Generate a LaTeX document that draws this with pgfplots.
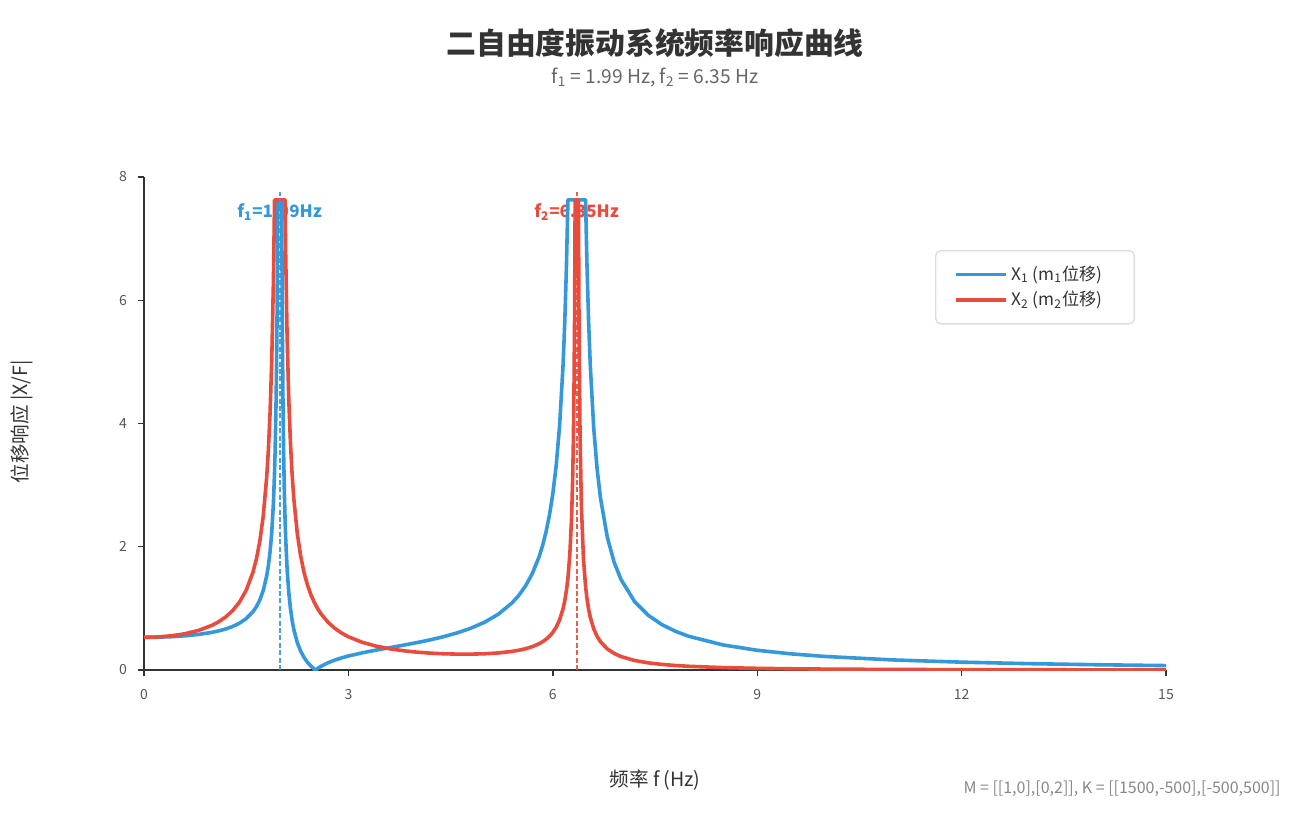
\documentclass[border=0pt]{standalone}
\usepackage{fontspec}
\setmainfont{Noto Sans CJK SC}
\usepackage{pgfplots}
\pgfplotsset{compat=1.18}
\definecolor{cblue}{HTML}{3498DB}
\definecolor{cred}{HTML}{E74C3C}
\definecolor{axgray}{HTML}{333333}
\definecolor{tickgray}{HTML}{555555}
\definecolor{subgray}{HTML}{666666}
\definecolor{footgray}{HTML}{888888}
\definecolor{legbord}{HTML}{DDDDDD}

\pgfplotstableread{
f x1
0 0.53
0.2 0.5325
0.4 0.5404
0.6 0.5546
0.8 0.5770
1.0 0.6115
1.1 0.6354
1.2 0.6658
1.3 0.7055
1.4 0.7588
1.5 0.8339
1.6 0.9471
1.65 1.0283
1.7 1.1369
1.75 1.2900
1.8 1.5219
1.825 1.6893
1.85 1.9144
1.875 2.2342
1.9 2.7248
1.916 3.206
1.925 3.571
1.94 4.455
1.95 5.385
1.955 6.027
1.96 6.862
1.963 7.63
2.021 7.63
2.03 5.619
2.04 4.318
2.05 3.479
2.06 2.892
2.07 2.468
2.08 2.128
2.1 1.651
2.125 1.259
2.15 0.9924
2.175 0.799
2.2 0.6522
2.25 0.4443
2.3 0.3036
2.35 0.2018
2.4 0.1245
2.45 0.0636
2.5 0.0143
2.5164 0
2.55 0.0267
2.6 0.0613
2.7 0.1173
2.8 0.1611
2.9 0.1969
3.0 0.2273
3.2 0.2780
3.4 0.3214
3.6 0.3615
3.8 0.4014
4.0 0.4432
4.2 0.4891
4.4 0.5415
4.6 0.6036
4.8 0.6796
5.0 0.7764
5.2 0.9054
5.4 1.0872
5.5 1.2097
5.6 1.3643
5.7 1.5663
5.8 1.8409
5.85 2.0193
5.9 2.2368
5.95 2.5083
6.0 2.8569
6.05 3.3207
6.1 3.9685
6.15 4.9359
6.175 5.6245
6.2 6.538
6.222 7.63
6.481 7.63
6.5 6.641
6.525 5.672
6.55 4.947
6.6 3.937
6.65 3.2664
6.7 2.7887
6.8 2.1534
6.9 1.7500
7.0 1.4713
7.2 1.1112
7.4 0.8886
7.6 0.7374
7.8 0.6281
8.0 0.5454
8.5 0.4064
9.0 0.3202
9.5 0.2617
10 0.2195
11 0.1631
12 0.1274
13 0.1029
14 0.0852
15 0.0719
}\tabXone

\pgfplotstableread{
f x2
0 0.53
0.2 0.5359
0.4 0.5544
0.6 0.5880
0.8 0.6419
1.0 0.7262
1.1 0.7855
1.2 0.8618
1.3 0.9623
1.4 1.0989
1.5 1.2935
1.6 1.5898
1.65 1.8037
1.7 2.0913
1.75 2.4980
1.8 3.1163
1.825 3.5635
1.85 4.166
1.875 5.0225
1.9 6.3376
1.916 7.63
2.070 7.63
2.08 6.717
2.1 5.438
2.125 4.389
2.15 3.675
2.175 3.1585
2.2 2.7675
2.25 2.2153
2.3 1.8440
2.35 1.5773
2.4 1.3770
2.45 1.2207
2.5 1.0958
2.55 0.9937
2.6 0.9088
2.7 0.7757
2.8 0.6766
2.9 0.6001
3.0 0.5396
3.2 0.4506
3.4 0.3893
3.6 0.3454
3.8 0.3135
4.0 0.2903
4.2 0.2739
4.4 0.2632
4.6 0.2578
4.8 0.2576
5.0 0.2634
5.2 0.2769
5.4 0.3016
5.5 0.3203
5.6 0.3452
5.7 0.3792
5.8 0.4269
5.85 0.4585
5.9 0.4974
5.95 0.5464
6.0 0.6098
6.05 0.6947
6.1 0.8139
6.15 0.9926
6.175 1.1201
6.2 1.2895
6.222 1.4922
6.25 1.8778
6.275 2.4568
6.29 3.0284
6.3 3.5909
6.31 4.4171
6.32 5.7566
6.328 7.63
6.376 7.63
6.385 5.5656
6.4 3.7875
6.42 2.6437
6.45 1.8082
6.481 1.3546
6.5 1.1709
6.525 0.9910
6.55 0.8567
6.6 0.6697
6.65 0.5459
6.7 0.4580
6.8 0.3417
6.9 0.2685
7.0 0.2184
7.2 0.1546
7.4 0.1162
7.6 0.0908
7.8 0.07297
8.0 0.0599
8.5 0.03904
9.0 0.02715
9.5 0.01975
10 0.01484
11 0.009008
12 0.005858
13 0.004005
14 0.002844
15 0.002083
}\tabXtwo

\begin{document}
\begin{tikzpicture}
\useasboundingbox (-72pt,-73pt) rectangle (578.5pt,335pt);
\begin{axis}[
  at={(0pt,0pt)}, anchor=south west,
  scale only axis, width=511pt, height=246.5pt,
  xmin=0, xmax=15, ymin=0, ymax=8,
  axis x line*=bottom, axis y line*=left,
  axis line style={axgray, line width=1.2pt},
  xtick={0,3,6,9,12,15}, ytick={0,2,4,6,8},
  tick align=outside, major tick length=3pt,
  tick style={axgray, line width=0.7pt},
  ticklabel style={font=\fontsize{7}{8}\selectfont, text=tickgray},
  /pgf/number format/assume math mode=true,
  xticklabel style={yshift=-3pt},
  yticklabel style={xshift=-2pt},
  legend style={at={(0.774,0.852)}, anchor=north west, draw=legbord,
    rounded corners=2.5pt, line width=0.7pt, font=\fontsize{8.6}{10}\selectfont,
    text=axgray, inner xsep=9pt, inner ysep=5.5pt, row sep=0pt},
  legend cell align=left,
  legend image code/.code={\path (0pt,0pt) -- (25pt,0pt); \draw[#1, line width=1.8pt] (0pt,0pt) -- (20pt,0pt);},
]
\node[text=cblue, font=\bfseries\fontsize{8.5}{10}\selectfont] at (axis cs:1.99,7.43) {f\textsubscript{1}=1.99Hz};
\node[text=cred, font=\bfseries\fontsize{8.5}{10}\selectfont] at (axis cs:6.35,7.43) {f\textsubscript{2}=6.35Hz};
\addplot[cblue, line width=1.8pt, line join=round] table[x=f, y=x1] {\tabXone};
\addlegendentry{X\textsubscript{1} (m\textsubscript{1}位移)\rule{5pt}{0pt}}
\addplot[cred, line width=1.8pt, line join=round] table[x=f, y=x2] {\tabXtwo};
\addlegendentry{X\textsubscript{2} (m\textsubscript{2}位移)\rule{5pt}{0pt}}
\addplot[cblue, line width=1pt, dash pattern=on 2.5pt off 1.2pt, opacity=0.9, forget plot] coordinates {(1.99,0) (1.99,7.76)};
\addplot[cred, line width=1pt, dash pattern=on 2.5pt off 1.2pt, opacity=0.9, forget plot] coordinates {(6.35,0) (6.35,7.76)};
\end{axis}
\node[font=\bfseries\fontsize{14.9}{17}\selectfont, text=axgray] at (255.5pt,313.5pt) {二自由度振动系统频率响应曲线};
\node[font=\fontsize{9.6}{11}\selectfont, text=subgray] at (255.5pt,296pt) {f\textsubscript{1} = 1.99 Hz, f\textsubscript{2} = 6.35 Hz};
\node[font=\fontsize{9.8}{11}\selectfont, text=axgray] at (255.5pt,-55pt) {频率 f (Hz)};
\node[font=\fontsize{9.8}{11}\selectfont, text=axgray, rotate=90] at (-61pt,124pt) {位移响应 |X/F|};
\node[font=\fontsize{8}{9}\selectfont, text=footgray, anchor=east, inner sep=0pt] at (568.5pt,-59.5pt) {M = [[1,0],[0,2]], K = [[1500,-500],[-500,500]]};
\end{tikzpicture}
\end{document}
